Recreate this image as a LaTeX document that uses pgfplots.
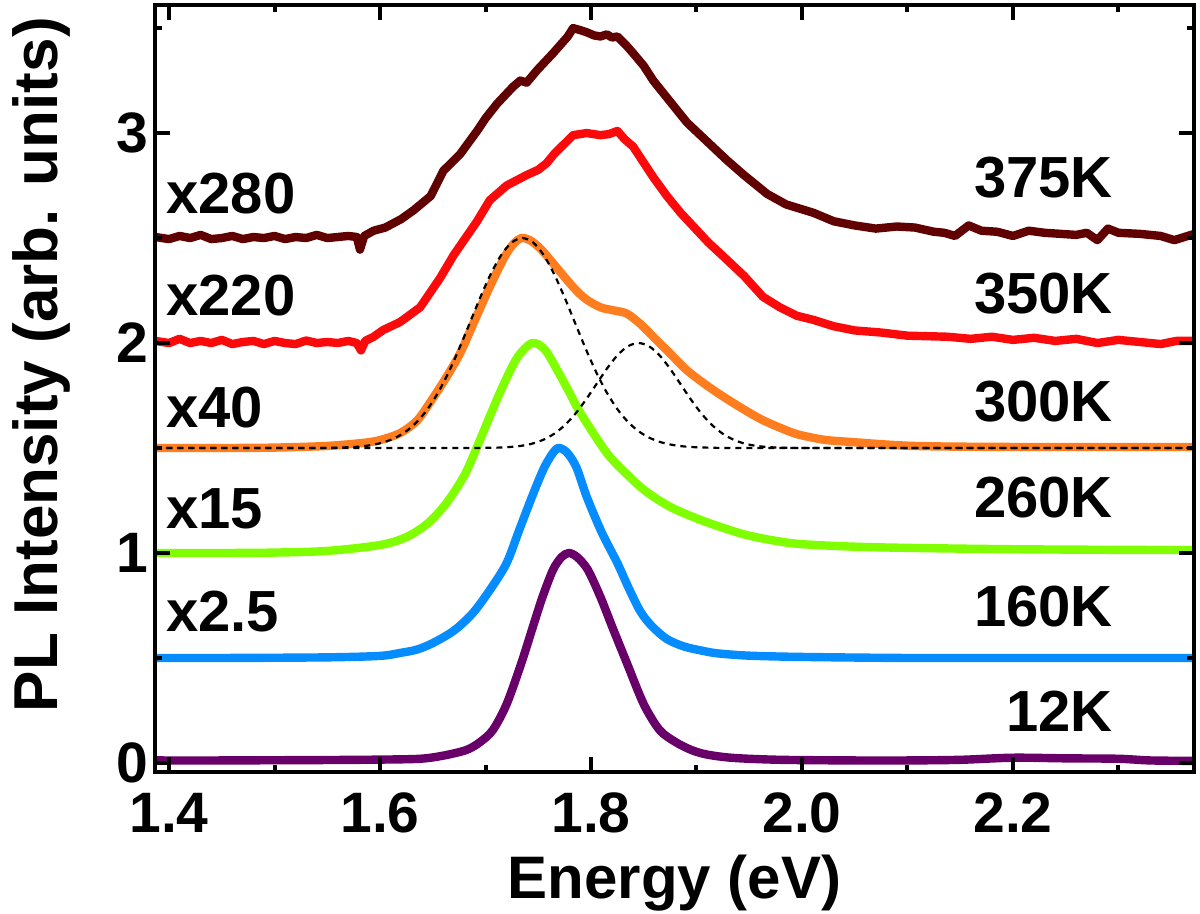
\documentclass[border=0pt]{standalone}
\usepackage{fontspec}
\setmainfont{Liberation Sans}
\usepackage{pgfplots}
\pgfplotsset{compat=1.18}
\definecolor{c375}{RGB}{96,0,0}
\definecolor{c350}{RGB}{250,10,10}
\definecolor{c300}{RGB}{255,125,30}
\definecolor{c260}{RGB}{128,255,0}
\definecolor{c160}{RGB}{5,140,255}
\definecolor{c12}{RGB}{105,0,105}
\begin{document}
\begin{tikzpicture}
\useasboundingbox (-77.5pt,-71pt) rectangle (522.5pt,386pt);
\begin{axis}[
  scale only axis, width=519.5pt, height=383.5pt,
  xmin=1.3867, xmax=2.3716, ymin=-0.043, ymax=3.61,
  axis on top,
  axis line style={line width=2pt},
  xtick={1.4,1.6,1.8,2.0,2.2}, xticklabels={1.4,1.6,1.8,2.0,2.2},
  ytick={0,1,2,3}, yticklabels={0,1,2,3},
  minor xtick={1.5,1.7,1.9,2.1,2.3}, minor ytick={0.5,1.5,2.5,3.5},
  xtick pos=both, ytick pos=both, tick align=inside,
  major tick length=7.5pt, minor tick length=3.5pt,
  every tick/.style={black, line width=2pt},
  tick label style={font=\fontsize{28.5}{30}\selectfont\bfseries, inner sep=0.5pt},
  xticklabel style={yshift=-9.8pt},
  yticklabel style={xshift=-2.8pt},
  /pgf/number format/assume math mode=true,
  xlabel={Energy (eV)}, ylabel={PL Intensity (arb. units)},
  xlabel style={font=\fontsize{30}{32}\selectfont\bfseries, at={(axis description cs:0.5,-0.1643)}, anchor=base},
  ylabel style={font=\fontsize{31}{33}\selectfont\bfseries, at={(axis description cs:-0.1088,0.531)}, anchor=center},
  every axis plot/.append style={line width=4.2pt, line join=round},
]
% 375K
\addplot[c375] coordinates {
(1.387,2.505)(1.40,2.495)(1.41,2.51)(1.42,2.50)(1.43,2.515)(1.44,2.495)(1.45,2.50)(1.46,2.51)(1.47,2.495)(1.48,2.505)(1.49,2.50)(1.50,2.51)(1.51,2.495)(1.52,2.505)(1.53,2.50)(1.54,2.515)(1.55,2.50)(1.56,2.505)(1.57,2.51)(1.578,2.505)(1.581,2.445)(1.585,2.51)(1.594,2.535)(1.605,2.55)(1.62,2.59)(1.632,2.633)(1.648,2.70)(1.660,2.82)(1.676,2.90)(1.692,3.01)(1.700,3.07)(1.711,3.14)(1.726,3.22)(1.733,3.25)(1.739,3.24)(1.749,3.30)(1.764,3.38)(1.778,3.46)(1.783,3.50)(1.790,3.49)(1.796,3.48)(1.803,3.465)(1.809,3.46)(1.815,3.47)(1.820,3.455)(1.825,3.46)(1.833,3.42)(1.840,3.38)(1.850,3.32)(1.859,3.25)(1.875,3.15)(1.891,3.05)(1.910,2.96)(1.929,2.87)(1.945,2.80)(1.967,2.71)(1.985,2.66)(2.011,2.62)(2.03,2.58)(2.050,2.56)(2.07,2.545)(2.09,2.555)(2.107,2.55)(2.125,2.53)(2.135,2.525)(2.145,2.51)(2.158,2.56)(2.17,2.535)(2.185,2.53)(2.20,2.51)(2.215,2.535)(2.23,2.525)(2.245,2.52)(2.26,2.515)(2.27,2.525)(2.28,2.49)(2.29,2.545)(2.30,2.525)(2.32,2.52)(2.34,2.51)(2.353,2.49)(2.372,2.52)};
% 350K
\addplot[c350] coordinates {
(1.387,2.01)(1.40,2.00)(1.41,2.02)(1.42,2.0)(1.43,2.01)(1.44,2.0)(1.45,2.015)(1.46,1.995)(1.47,2.005)(1.48,2.01)(1.49,1.995)(1.50,2.01)(1.51,2.0)(1.52,1.995)(1.53,2.012)(1.54,2.0)(1.55,2.005)(1.56,2.0)(1.57,2.01)(1.578,2.0)(1.582,1.965)(1.586,2.01)(1.594,2.03)(1.603,2.062)(1.619,2.10)(1.638,2.17)(1.657,2.31)(1.670,2.42)(1.681,2.50)(1.692,2.58)(1.704,2.68)(1.720,2.75)(1.739,2.80)(1.750,2.825)(1.758,2.857)(1.765,2.90)(1.771,2.93)(1.783,2.99)(1.796,3.0)(1.809,2.99)(1.817,2.995)(1.825,3.01)(1.832,2.97)(1.840,2.935)(1.859,2.79)(1.872,2.70)(1.885,2.62)(1.898,2.55)(1.911,2.48)(1.926,2.41)(1.945,2.32)(1.963,2.22)(1.979,2.17)(1.995,2.13)(2.011,2.11)(2.03,2.08)(2.05,2.06)(2.075,2.05)(2.10,2.035)(2.138,2.03)(2.16,2.02)(2.18,2.03)(2.20,2.015)(2.22,2.025)(2.24,2.01)(2.26,2.02)(2.28,2.0)(2.30,2.015)(2.32,2.005)(2.34,1.995)(2.355,2.01)(2.372,2.01)};
% 300K
\addplot[c300, smooth, tension=0.5] coordinates {
(1.387,1.50)(1.45,1.50)(1.50,1.502)(1.55,1.51)(1.585,1.525)(1.600,1.538)(1.619,1.571)(1.635,1.63)(1.647,1.714)(1.662,1.83)(1.676,1.952)(1.690,2.11)(1.704,2.267)(1.718,2.41)(1.727,2.475)(1.734,2.50)(1.742,2.49)(1.752,2.45)(1.764,2.38)(1.783,2.267)(1.795,2.21)(1.809,2.17)(1.822,2.155)(1.834,2.14)(1.847,2.09)(1.859,2.03)(1.875,1.95)(1.891,1.87)(1.912,1.79)(1.935,1.714)(1.960,1.64)(1.980,1.595)(1.996,1.565)(2.02,1.54)(2.043,1.53)(2.106,1.51)(2.2,1.505)(2.3,1.505)(2.372,1.505)};
% 260K
\addplot[c260, smooth, tension=0.5] coordinates {
(1.387,1.0)(1.45,1.0)(1.50,1.002)(1.55,1.01)(1.60,1.038)(1.625,1.076)(1.645,1.14)(1.663,1.238)(1.68,1.37)(1.692,1.505)(1.704,1.65)(1.716,1.79)(1.73,1.93)(1.744,2.0)(1.756,1.97)(1.768,1.871)(1.780,1.76)(1.790,1.667)(1.815,1.476)(1.835,1.37)(1.853,1.29)(1.875,1.22)(1.900,1.165)(1.925,1.12)(1.948,1.085)(1.975,1.058)(2.0,1.042)(2.05,1.03)(2.106,1.024)(2.2,1.018)(2.3,1.015)(2.372,1.014)};
% 160K
\addplot[c160, smooth, tension=0.5] coordinates {
(1.387,0.5)(1.45,0.5)(1.55,0.503)(1.60,0.51)(1.619,0.524)(1.635,0.54)(1.650,0.571)(1.67,0.63)(1.688,0.714)(1.705,0.83)(1.720,0.952)(1.732,1.11)(1.744,1.267)(1.755,1.40)(1.763,1.47)(1.769,1.50)(1.777,1.48)(1.786,1.41)(1.796,1.267)(1.810,1.10)(1.825,0.952)(1.836,0.83)(1.847,0.72)(1.858,0.65)(1.872,0.59)(1.888,0.555)(1.905,0.535)(1.920,0.522)(1.95,0.511)(2.0,0.505)(2.1,0.5)(2.2,0.5)(2.372,0.5)};
% 12K
\addplot[c12, smooth, tension=0.5] coordinates {
(1.387,0.012)(1.45,0.012)(1.50,0.013)(1.55,0.014)(1.60,0.016)(1.638,0.02)(1.66,0.035)(1.682,0.062)(1.695,0.10)(1.707,0.157)(1.72,0.28)(1.734,0.476)(1.745,0.65)(1.754,0.79)(1.764,0.92)(1.772,0.98)(1.779,1.0)(1.787,0.98)(1.797,0.92)(1.809,0.79)(1.82,0.65)(1.834,0.476)(1.85,0.28)(1.865,0.157)(1.88,0.10)(1.895,0.062)(1.91,0.04)(1.935,0.024)(1.98,0.015)(2.05,0.012)(2.10,0.012)(2.15,0.015)(2.20,0.025)(2.25,0.022)(2.30,0.02)(2.33,0.012)(2.372,0.01)};
% Gaussian fit components of 300K
\addplot[black, line width=1.1pt, dash pattern=on 3pt off 2.5pt, smooth, tension=0.5] coordinates {
(1.387,1.5)(1.50,1.5)(1.535,1.5002)(1.555,1.5012)(1.575,1.5048)(1.585,1.5092)(1.595,1.5169)(1.605,1.5296)(1.615,1.5498)(1.625,1.5805)(1.635,1.6246)(1.645,1.6851)(1.655,1.7638)(1.665,1.8604)(1.675,1.9725)(1.685,2.0942)(1.695,2.2166)(1.705,2.329)(1.715,2.420)(1.725,2.4794)(1.735,2.5)(1.745,2.4794)(1.755,2.420)(1.765,2.329)(1.775,2.2166)(1.785,2.0942)(1.795,1.9725)(1.805,1.8604)(1.815,1.7638)(1.825,1.6851)(1.835,1.6246)(1.845,1.5805)(1.855,1.5498)(1.865,1.5296)(1.875,1.5169)(1.885,1.5092)(1.895,1.5048)(1.915,1.5012)(1.935,1.5002)(2.0,1.5)(2.372,1.5)};
\addplot[black, line width=1.1pt, dash pattern=on 3pt off 2.5pt, smooth, tension=0.5] coordinates {
(1.387,1.5)(1.65,1.5)(1.685,1.5002)(1.705,1.5011)(1.715,1.5025)(1.725,1.5056)(1.735,1.5114)(1.745,1.522)(1.755,1.5398)(1.765,1.5677)(1.775,1.6081)(1.785,1.6623)(1.795,1.7289)(1.805,1.8033)(1.815,1.8774)(1.825,1.9412)(1.835,1.9846)(1.845,2.0)(1.855,1.9846)(1.865,1.9412)(1.875,1.8774)(1.885,1.8033)(1.895,1.7289)(1.905,1.6623)(1.915,1.6081)(1.925,1.5677)(1.935,1.5398)(1.945,1.522)(1.955,1.5114)(1.965,1.5056)(1.975,1.5025)(1.985,1.5011)(2.005,1.5002)(2.04,1.5)(2.372,1.5)};
% labels
\begin{scope}[every node/.style={inner sep=0pt, font=\fontsize{29}{30}\selectfont\bfseries}]
\node[anchor=base west] at (axis cs:1.397,2.619) {x280};
\node[anchor=base west] at (axis cs:1.397,2.133) {x220};
\node[anchor=base west] at (axis cs:1.397,1.600) {x40};
\node[anchor=base west] at (axis cs:1.397,1.119) {x15};
\node[anchor=base west] at (axis cs:1.397,0.624) {x2.5};
\node[anchor=base east] at (axis cs:2.295,2.695) {375K};
\node[anchor=base east] at (axis cs:2.295,2.140) {350K};
\node[anchor=base east] at (axis cs:2.295,1.628) {300K};
\node[anchor=base east] at (axis cs:2.295,1.167) {260K};
\node[anchor=base east] at (axis cs:2.295,0.652) {160K};
\node[anchor=base east] at (axis cs:2.295,0.148) {12K};
\end{scope}
\end{axis}
\end{tikzpicture}
\end{document}
